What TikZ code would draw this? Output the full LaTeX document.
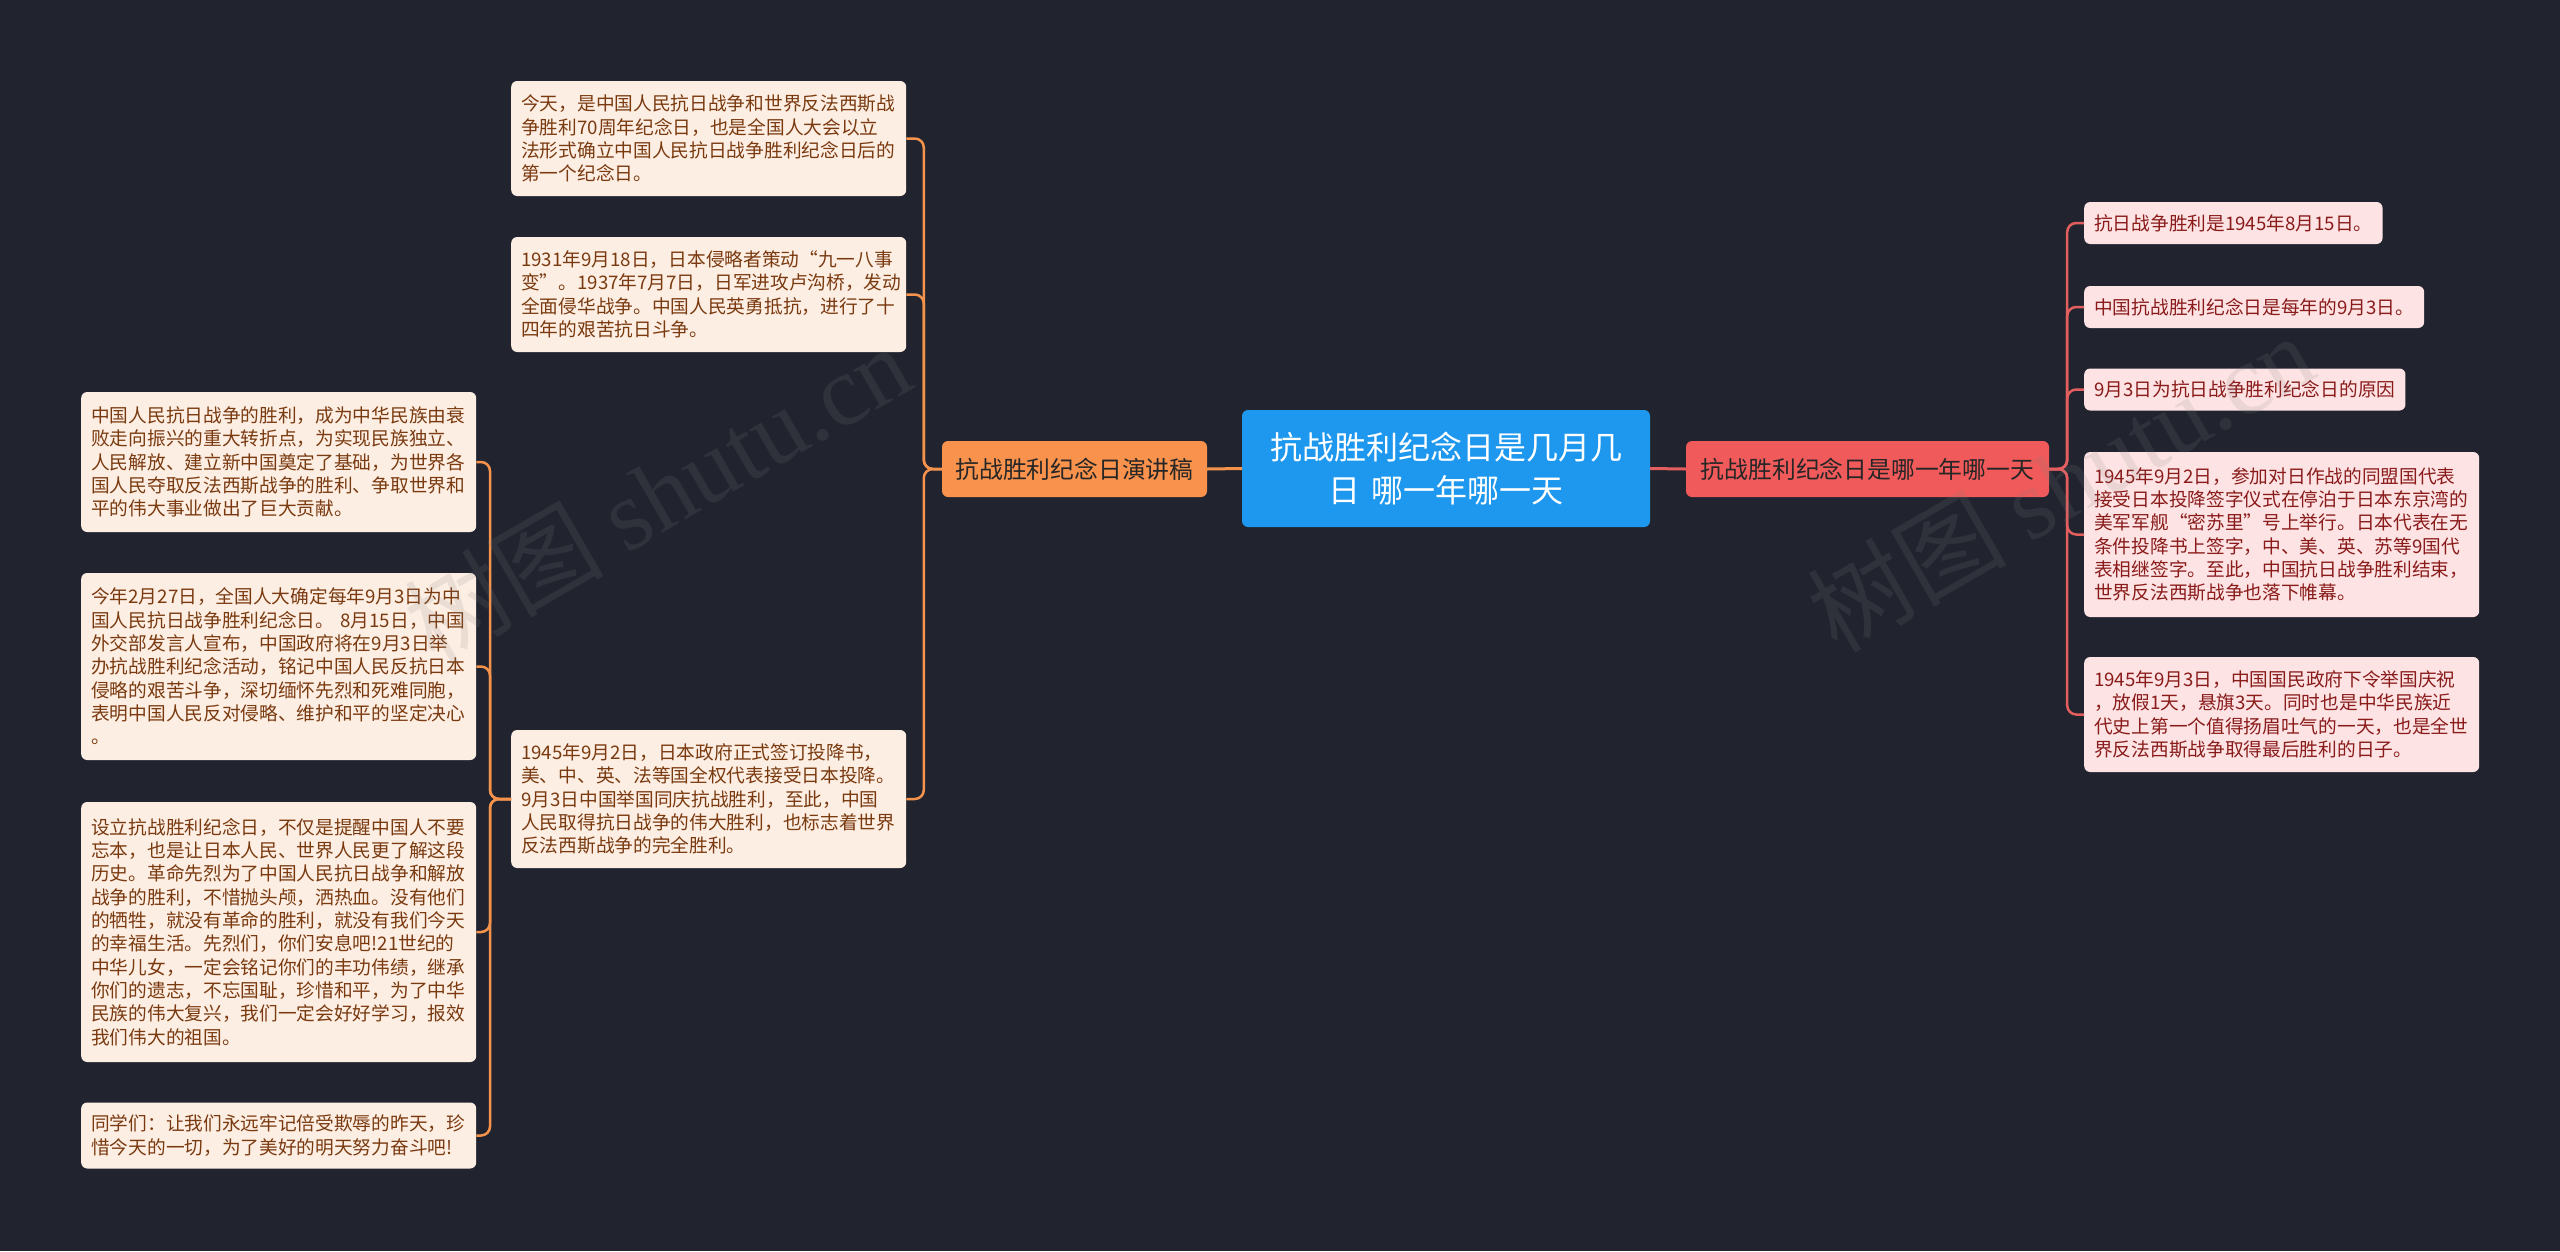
\documentclass[tikz,border=0pt]{standalone}
\usepackage{fontspec}
\setmainfont{Noto Sans CJK SC}
\newfontfamily\wmfont{Liberation Serif}
\usetikzlibrary{calc}
\definecolor{bg}{HTML}{21242F}
\definecolor{cblue}{HTML}{1D98EE}
\definecolor{morange}{HTML}{F8924C}
\definecolor{mred}{HTML}{F05A5A}
\definecolor{lfill}{HTML}{FDEEE3}
\definecolor{ltext}{HTML}{7A3A10}
\definecolor{rfill}{HTML}{FDE3E3}
\definecolor{rtext}{HTML}{8A1B1B}
\definecolor{corange}{HTML}{F5934C}
\definecolor{cred}{HTML}{E35E5E}
\definecolor{wmgray}{HTML}{808080}
\tikzset{
  leafL/.style={fill=lfill, rounded corners=6pt, text=ltext, font=\fontsize{18.7}{23.3}\selectfont, align=left, inner xsep=10pt, inner ysep=0pt, text width=375pt, anchor=west},
  leafR/.style={fill=rfill, rounded corners=6pt, text=rtext, font=\fontsize{18.7}{23.3}\selectfont, align=left, inner xsep=10pt, inner ysep=0pt, anchor=west},
  mainnode/.style={rounded corners=6pt, text=black!85, font=\fontsize{23.8}{30}\selectfont, align=center, inner sep=0pt, minimum height=56pt},
  connL/.style={draw=corange, line width=2.5pt, rounded corners=9pt},
  connR/.style={draw=cred, line width=2.5pt, rounded corners=9pt},
  wm/.style={text=wmgray, opacity=0.15, font=\fontsize{100}{100}\selectfont, rotate=30, inner sep=0pt}
}
\begin{document}
\begin{tikzpicture}[x=1pt,y=-1pt]
\fill[bg] (0,0) rectangle (2560,1251);
\useasboundingbox (0,0) rectangle (2560,1251);

% center
\node[fill=cblue, rounded corners=6pt, text=white, font=\fontsize{32}{42.5}\selectfont, align=center, minimum width=408pt, minimum height=117pt, text width=380pt, inner sep=0pt] (c) at (1446,468.5) {抗战胜利纪念日是几月几\\日 哪一年哪一天};

% main branches
\node[mainnode, fill=morange, minimum width=265pt] (ml) at (1074.5,469) {抗战胜利纪念日演讲稿};
\node[mainnode, fill=mred, minimum width=363pt] (mr) at (1867.5,469) {抗战胜利纪念日是哪一年哪一天};

% left middle column
\node[leafL, minimum height=115pt] (l1) at (511,138.5) {今天，是中国人民抗日战争和世界反法西斯战\\争胜利70周年纪念日，也是全国人大会以立\\法形式确立中国人民抗日战争胜利纪念日后的\\第一个纪念日。};
\node[leafL, minimum height=115pt] (l2) at (511,294.5) {1931年9月18日，日本侵略者策动“九一八事\\变”。1937年7月7日，日军进攻卢沟桥，发动\\全面侵华战争。中国人民英勇抵抗，进行了十\\四年的艰苦抗日斗争。};
\node[leafL, minimum height=138pt] (l3) at (511,799) {1945年9月2日，日本政府正式签订投降书，\\美、中、英、法等国全权代表接受日本投降。\\9月3日中国举国同庆抗战胜利，至此，中国\\人民取得抗日战争的伟大胜利，也标志着世界\\反法西斯战争的完全胜利。};

% far left column
\node[leafL, minimum height=140pt] (f1) at (81,462) {中国人民抗日战争的胜利，成为中华民族由衰\\败走向振兴的重大转折点，为实现民族独立、\\人民解放、建立新中国奠定了基础，为世界各\\国人民夺取反法西斯战争的胜利、争取世界和\\平的伟大事业做出了巨大贡献。};
\node[leafL, minimum height=187pt] (f2) at (81,666.5) {今年2月27日，全国人大确定每年9月3日为中\\国人民抗日战争胜利纪念日。 8月15日，中国\\外交部发言人宣布，中国政府将在9月3日举\\办抗战胜利纪念活动，铭记中国人民反抗日本\\侵略的艰苦斗争，深切缅怀先烈和死难同胞，\\表明中国人民反对侵略、维护和平的坚定决心\\。};
\node[leafL, minimum height=260pt] (f3) at (81,932) {设立抗战胜利纪念日，不仅是提醒中国人不要\\忘本，也是让日本人民、世界人民更了解这段\\历史。革命先烈为了中国人民抗日战争和解放\\战争的胜利，不惜抛头颅，洒热血。没有他们\\的牺牲，就没有革命的胜利，就没有我们今天\\的幸福生活。先烈们，你们安息吧!21世纪的\\中华儿女，一定会铭记你们的丰功伟绩，继承\\你们的遗志，不忘国耻，珍惜和平，为了中华\\民族的伟大复兴，我们一定会好好学习，报效\\我们伟大的祖国。};
\node[leafL, minimum height=66pt] (f4) at (81,1135.5) {同学们：让我们永远牢记倍受欺辱的昨天，珍\\惜今天的一切，为了美好的明天努力奋斗吧!};

% right column
\node[leafR, minimum height=42pt] (r1) at (2084,223) {抗日战争胜利是1945年8月15日。};
\node[leafR, minimum height=42pt] (r2) at (2084,307) {中国抗战胜利纪念日是每年的9月3日。};
\node[leafR, minimum height=42pt] (r3) at (2084,389.5) {9月3日为抗日战争胜利纪念日的原因};
\node[leafR, minimum height=165pt, text width=375pt] (r4) at (2084,534.5) {1945年9月2日，参加对日作战的同盟国代表\\接受日本投降签字仪式在停泊于日本东京湾的\\美军军舰“密苏里”号上举行。日本代表在无\\条件投降书上签字，中、美、英、苏等9国代\\表相继签字。至此，中国抗日战争胜利结束，\\世界反法西斯战争也落下帷幕。};
\node[leafR, minimum height=115pt, text width=375pt] (r5) at (2084,714.5) {1945年9月3日，中国国民政府下令举国庆祝\\，放假1天，悬旗3天。同时也是中华民族近\\代史上第一个值得扬眉吐气的一天，也是全世\\界反法西斯战争取得最后胜利的日子。};

% connectors
\draw[draw=corange, line width=3pt] (c.west) -- (ml.east);
\draw[draw=cred, line width=3pt] (c.east) -- (mr.west);
\foreach \n in {l1,l2,l3} \draw[connL] (ml.west) -- ++(-18,0) |- (\n.east);
\foreach \n in {f1,f2,f3,f4} \draw[connL] (l3.west) -- ++(-21,0) |- (\n.east);
\foreach \n in {r1,r2,r3,r4,r5} \draw[connR] (mr.east) -- ++(18,0) |- (\n.west);

% watermarks
\node[wm] (wm1) at (657,493) {树图 {\wmfont shutu.cn}};
\node[wm] (wm2) at (2060,482) {树图 {\wmfont shutu.cn}};
\end{tikzpicture}
\end{document}
